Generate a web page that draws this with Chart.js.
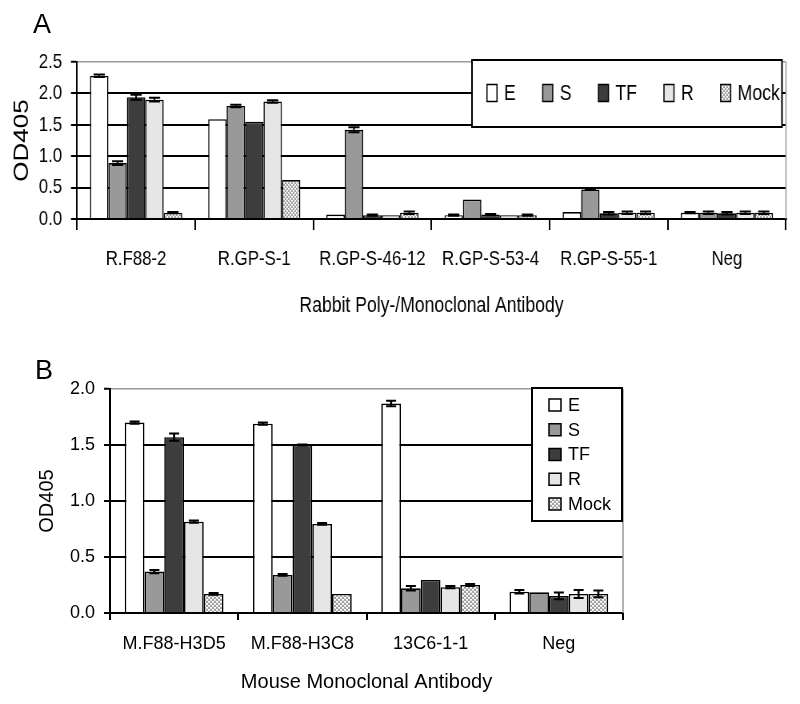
<!DOCTYPE html>
<html><head><meta charset="utf-8">
<script src="https://cdn.jsdelivr.net/npm/chart.js@4.4.1/dist/chart.umd.min.js"></script>
<style>
html,body{margin:0;padding:0;background:#fff;}
#wrap{position:relative;width:800px;height:704px;overflow:hidden;background:#fff;}
#cA{position:absolute;left:0;top:0;transform:scaleX(0.8);transform-origin:0 0;}
#cB{position:absolute;left:0;top:345px;}
.pl{position:absolute;font-family:'Liberation Sans',Arial,sans-serif;font-size:27px;line-height:26px;color:#000;}
</style></head><body>
<div id="wrap">
<canvas id="cA" width="1000" height="345"></canvas>
<canvas id="cB" width="800" height="359"></canvas>
<div class="pl" style="left:33px;top:11px;">A</div>
<div class="pl" style="left:35px;top:357px;">B</div>
</div>
<script>
// ---------- data ----------
const seriesNames = ['E', 'S', 'TF', 'R', 'Mock'];

const catsA = ['R.F88-2', 'R.GP-S-1', 'R.GP-S-46-12', 'R.GP-S-53-4', 'R.GP-S-55-1', 'Neg'];
const eA    = [2.28, 1.59, 0.07, 0.06, 0.11, 0.10];
const sA    = [0.89, 1.80, 1.42, 0.31, 0.47, 0.10];
const tfA   = [1.94, 1.55, 0.06, 0.07, 0.09, 0.09];
const rA    = [1.90, 1.87, 0.06, 0.06, 0.10, 0.10];
const mockA = [0.10, 0.62, 0.10, 0.06, 0.10, 0.10];
const eAerr    = [0.02, 0.00, 0.00, 0.01, 0.00, 0.01];
const sAerr    = [0.03, 0.02, 0.04, 0.00, 0.01, 0.02];
const tfAerr   = [0.04, 0.00, 0.01, 0.01, 0.02, 0.02];
const rAerr    = [0.03, 0.02, 0.00, 0.00, 0.02, 0.02];
const mockAerr = [0.01, 0.00, 0.02, 0.01, 0.02, 0.02];
const titleXA = 'Rabbit Poly-/Monoclonal Antibody';
const maxA = 2.5, stepA = 0.5;

const catsB = ['M.F88-H3D5', 'M.F88-H3C8', '13C6-1-1', 'Neg'];
const eB    = [1.70, 1.69, 1.87, 0.19];
const sB    = [0.37, 0.34, 0.22, 0.185];
const tfB   = [1.57, 1.50, 0.295, 0.152];
const rB    = [0.815, 0.795, 0.23, 0.17];
const mockB = [0.17, 0.17, 0.25, 0.17];
const eBerr    = [0.01, 0.01, 0.025, 0.015];
const sBerr    = [0.015, 0.008, 0.02, 0.0];
const tfBerr   = [0.033, 0.005, 0.0, 0.03];
const rBerr    = [0.01, 0.008, 0.01, 0.035];
const mockBerr = [0.008, 0.0, 0.01, 0.03];
const titleXB = 'Mouse Monoclonal Antibody';
const maxB = 2.0, stepB = 0.5;

const yTitle = 'OD405';

// ---------- styling ----------
const FONT = "'Liberation Sans', Arial, Helvetica, sans-serif";
Chart.defaults.font.family = FONT;
Chart.defaults.color = '#000';

function makePattern() {
  const c = document.createElement('canvas');
  c.width = 4; c.height = 4;
  const x = c.getContext('2d');
  x.fillStyle = '#a2a2a2'; x.fillRect(0, 0, 4, 4);
  x.fillStyle = '#ffffff';
  x.fillRect(0, 0, 2, 1); x.fillRect(2, 2, 2, 1);
  x.fillStyle = '#e4e4e4';
  x.fillRect(0, 1, 2, 1); x.fillRect(2, 3, 2, 1);
  return x.createPattern(c, 'repeat');
}
const fills = ['#ffffff', '#999999', '#3d3d3d', '#e6e6e6', makePattern()];

const errorBars = {
  id: 'errorBars',
  afterDatasetsDraw(chart, args, opts) {
    const ctx = chart.ctx, ys = chart.scales.y;
    chart.data.datasets.forEach((ds, i) => {
      const meta = chart.getDatasetMeta(i);
      meta.data.forEach((bar, j) => {
        const v = ds.data[j], e = ds.errors[j];
        if (!e) return;
        const yT = ys.getPixelForValue(v + e), yB = ys.getPixelForValue(v - e);
        ctx.save();
        ctx.strokeStyle = '#000'; ctx.lineWidth = opts.lineWidth;
        ctx.beginPath();
        ctx.moveTo(bar.x, yT); ctx.lineTo(bar.x, yB);
        ctx.moveTo(bar.x - opts.cap, yT); ctx.lineTo(bar.x + opts.cap, yT);
        ctx.moveTo(bar.x - opts.cap, yB); ctx.lineTo(bar.x + opts.cap, yB);
        ctx.stroke();
        ctx.restore();
      });
    });
  }
};

const frame = {
  id: 'frame',
  afterDraw(chart, args, opts) {
    const ctx = chart.ctx, a = chart.chartArea;
    ctx.save();
    ctx.strokeStyle = '#999'; ctx.lineWidth = opts.lineWidth;
    ctx.beginPath(); ctx.moveTo(a.right, a.top); ctx.lineTo(a.right, a.bottom); ctx.stroke();
    ctx.restore();
  }
};

const boxLegend = {
  id: 'boxLegend',
  afterDraw(chart, args, o) {
    const ctx = chart.ctx;
    ctx.save();
    const [x1, y1, x2, y2] = o.rect;
    ctx.fillStyle = '#fff'; ctx.fillRect(x1, y1, x2 - x1, y2 - y1);
    ctx.strokeStyle = '#000'; ctx.lineWidth = 2;
    ctx.strokeRect(x1, y1, x2 - x1, y2 - y1);
    ctx.font = o.fontSize + 'px ' + FONT;
    ctx.textBaseline = 'middle'; ctx.textAlign = 'left';
    let x = o.startX, y = o.startY;
    chart.data.datasets.forEach((ds) => {
      ctx.fillStyle = ds.backgroundColor;
      ctx.fillRect(x, y - o.bh / 2, o.bw, o.bh);
      ctx.lineWidth = 1.5; ctx.strokeStyle = '#000';
      ctx.strokeRect(x, y - o.bh / 2, o.bw, o.bh);
      ctx.fillStyle = '#000';
      ctx.fillText(ds.label, x + o.bw + o.textGap, y + 1);
      if (o.row) {
        x += o.bw + o.textGap + ctx.measureText(ds.label).width + o.itemGap;
      } else {
        y += o.step;
      }
    });
    ctx.restore();
  }
};

function datasets(vals, errs) {
  return seriesNames.map((n, i) => ({
    label: n, data: vals[i], errors: errs[i],
    backgroundColor: fills[i], borderColor: '#000', borderWidth: 1.6
  }));
}

function buildChart(id, cfg) {
  return new Chart(document.getElementById(id), {
    type: 'bar',
    data: { labels: cfg.labels, datasets: datasets(cfg.vals, cfg.errs) },
    options: {
      responsive: false, animation: false,
      layout: { padding: cfg.padding },
      datasets: { bar: { categoryPercentage: cfg.catPct, barPercentage: 1.0 } },
      plugins: {
        legend: { display: false }, tooltip: { enabled: false },
        errorBars: { lineWidth: 2, cap: cfg.cap },
        frame: { lineWidth: 1.5 },
        boxLegend: cfg.legend
      },
      scales: {
        x: {
          grid: { display: true, drawOnChartArea: false, drawTicks: true, tickLength: cfg.xTickLen,
                  color: '#000', lineWidth: 2, offset: true },
          border: { display: true, color: '#000', width: 2 },
          ticks: { color: '#000', font: { size: cfg.xTickFont }, padding: cfg.xTickPad,
                   maxRotation: 0, autoSkip: false },
          title: { display: true, text: cfg.xTitle, color: '#000', font: { size: cfg.xTitleFont },
                   padding: { top: 0, bottom: cfg.xTitlePad } },
          afterFit(s) { s.height = cfg.xHeight; }
        },
        y: {
          min: 0, max: cfg.max,
          ticks: { stepSize: cfg.step, callback: v => Number(v).toFixed(1), color: '#000',
                   font: { size: cfg.yTickFont }, padding: cfg.yTickPad },
          grid: {
            color: c => (c.tick && Math.abs(c.tick.value - cfg.max) < 1e-9) ? '#999' : '#000',
            lineWidth: c => (c.tick && Math.abs(c.tick.value - cfg.max) < 1e-9) ? 1.5 : 2,
            tickLength: cfg.yTickLen, tickColor: '#000', tickWidth: 2
          },
          border: { display: true, color: '#000', width: 2 },
          title: { display: true, text: yTitle, color: '#000', font: { size: cfg.yTitleFont },
                   padding: { top: cfg.yTitlePad, bottom: 0 } },
          afterFit(s) { s.width = cfg.yWidth; }
        }
      }
    },
    plugins: [errorBars, frame, boxLegend]
  });
}

// Panel A (drawn on a 1000px canvas, squeezed to 800px)
buildChart('cA', {
  labels: catsA,
  vals: [eA, sA, tfA, rA, mockA],
  errs: [eAerr, sAerr, tfAerr, rAerr, mockAerr],
  padding: { top: 62, right: 17.5, left: 0, bottom: 0 },
  catPct: 0.78, cap: 7,
  xTickLen: 11, xTickFont: 21, xTickPad: 17, xTitle: titleXA, xTitleFont: 22, xTitlePad: 26, xHeight: 126,
  max: maxA, step: stepA, yTickFont: 21, yTickPad: 11, yTickLen: 7.5, yTitleFont: 26, yTitlePad: 12, yWidth: 96.25,
  legend: { rect: [590, 60, 977.5, 127], row: true, startX: 608.75, startY: 93, bw: 12.5, bh: 17,
            textGap: 8.75, itemGap: 33.75, fontSize: 22 }
});

// Panel B
buildChart('cB', {
  labels: catsB,
  vals: [eB, sB, tfB, rB, mockB],
  errs: [eBerr, sBerr, tfBerr, rBerr, mockBerr],
  padding: { top: 44, right: 177, left: 0, bottom: 0 },
  catPct: 0.77, cap: 5,
  xTickLen: 7, xTickFont: 18, xTickPad: 13, xTitle: titleXB, xTitleFont: 20, xTitlePad: 10, xHeight: 91,
  max: maxB, step: stepB, yTickFont: 18, yTickPad: 9, yTickLen: 6, yTitleFont: 20, yTitlePad: 35, yWidth: 110,
  legend: { rect: [532, 43, 622, 176], row: false, startX: 549, startY: 60, bw: 12, bh: 12,
            textGap: 7, step: 24.75, fontSize: 18 }
});
</script>
</body></html>
